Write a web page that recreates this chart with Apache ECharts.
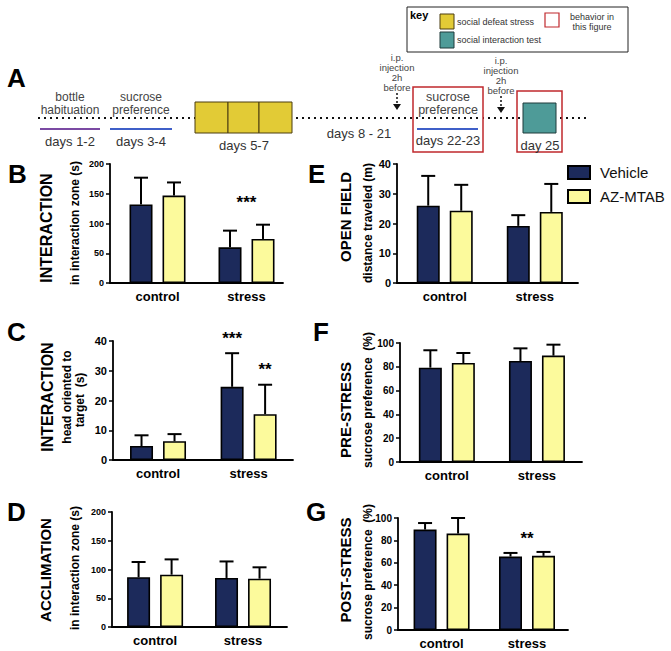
<!DOCTYPE html>
<html><head><meta charset="utf-8">
<script src="https://cdn.jsdelivr.net/npm/echarts@6/dist/echarts.min.js"></script>
<style>html,body{margin:0;padding:0;background:#fff}#c{width:671px;height:651px}</style>
</head><body><div id="c"></div>
<script>
// ---------- data ----------
const groups = ['control', 'stress'];
const seriesNames = ['Vehicle', 'AZ-MTAB'];

// B: interaction, time in interaction zone (s)
const bVehicle = [132, 60];   const bVehicleErr = [45, 28];
const bAZ      = [147, 74];   const bAZErr      = [22, 24];
const bTicks   = [0, 50, 100, 150, 200];
// C: interaction, head oriented to target (s)
const cVehicle = [4.7, 24.6]; const cVehicleErr = [3.6, 11.3];
const cAZ      = [6.3, 15.4]; const cAZErr      = [2.4, 9.9];
const cTicks   = [0, 10, 20, 30, 40];
// D: acclimation, time in interaction zone (s)
const dVehicle = [86.5, 85.3]; const dVehicleErr = [26.5, 28.7];
const dAZ      = [91, 84];     const dAZErr      = [26.6, 19.8];
const dTicks   = [0, 50, 100, 150, 200];
// E: open field, distance traveled (m)
const eVehicle = [26, 19.2];   const eVehicleErr = [10, 3.6];
const eAZ      = [24.3, 23.9]; const eAZErr      = [8.7, 9.4];
const eTicks   = [0, 10, 20, 30, 40];
// F: pre-stress sucrose preference (%)
const fVehicle = [79.3, 84.9]; const fVehicleErr = [14.6, 10.6];
const fAZ      = [83.2, 89.4]; const fAZErr      = [8.4, 9.2];
const fTicks   = [0, 20, 40, 60, 80, 100];
// G: post-stress sucrose preference (%)
const gVehicle = [89.7, 65.6]; const gVehicleErr = [5.8, 3.2];
const gAZ      = [86.1, 66.2]; const gAZErr      = [13.9, 3.5];
const gTicks   = [0, 20, 40, 60, 80, 100];

// significance marks: group index, value height, bar (-1 vehicle, 0 between, 1 AZ-MTAB), text
const sigB = [[1, 136, 0, '***']];
const sigC = [[1, 40.7, -1, '***'], [1, 30.3, 1, '**']];
const sigG = [[1, 82, 0, '**']];

// ---------- style ----------
const FONT = 'Liberation Sans, Arial, Helvetica, sans-serif';
const NAVY = '#1c2a5b';
const PALE = '#fcfa9c';
const BAR_W = 23, BAR_GAP = 10;
const OFF = (BAR_W + BAR_GAP) / 2;

const panels = [
  {vehicle:bVehicle, vErr:bVehicleErr, az:bAZ, aErr:bAZErr, ticks:bTicks, sig:sigB,
   left:110, top:164, width:173, height:119, xMin:-0.534, xMax:1.41, tickFont:9},
  {vehicle:cVehicle, vErr:cVehicleErr, az:cAZ, aErr:cAZErr, ticks:cTicks, sig:sigC,
   left:113, top:341, width:180, height:119, xMin:-0.497, xMax:1.49, tickFont:11},
  {vehicle:dVehicle, vErr:dVehicleErr, az:dAZ, aErr:dAZErr, ticks:dTicks, sig:[],
   left:112, top:512, width:175, height:115, xMin:-0.49, xMax:1.5, tickFont:9},
  {vehicle:eVehicle, vErr:eVehicleErr, az:eAZ, aErr:eAZErr, ticks:eTicks, sig:[],
   left:397, top:164, width:181, height:119, xMin:-0.53, xMax:1.48, tickFont:11},
  {vehicle:fVehicle, vErr:fVehicleErr, az:fAZ, aErr:fAZErr, ticks:fTicks, sig:[],
   left:400, top:343, width:182, height:119, xMin:-0.52, xMax:1.5, tickFont:10},
  {vehicle:gVehicle, vErr:gVehicleErr, az:gAZ, aErr:gAZErr, ticks:gTicks, sig:sigG,
   left:398, top:518, width:170, height:112, xMin:-0.51, xMax:1.48, tickFont:10}
];

const grid = [], xAxis = [], yAxis = [], series = [];

function errSeries(idx, vals, errs, sign) {
  return {
    type: 'custom', xAxisIndex: idx, yAxisIndex: idx, z: 3, silent: true,
    data: groups.map((g, i) => [i, vals[i], errs[i]]),
    renderItem: (p, api) => {
      const x = api.value(0), m = api.value(1), e = api.value(2);
      const b = api.coord([x, m]), t = api.coord([x, m + e]);
      const cx = b[0] + sign * OFF;
      return {type: 'group', children: [
        {type: 'line', shape: {x1: cx, y1: b[1], x2: cx, y2: t[1]}, style: {stroke: '#000', lineWidth: 2}},
        {type: 'line', shape: {x1: cx - 7, y1: t[1], x2: cx + 7, y2: t[1]}, style: {stroke: '#000', lineWidth: 2}}
      ]};
    }
  };
}

panels.forEach((p, idx) => {
  grid.push({left: p.left, top: p.top, width: p.width, height: p.height});
  xAxis.push({
    type: 'value', gridIndex: idx, min: p.xMin, max: p.xMax,
    splitLine: {show: false},
    axisLine: {show: true, onZero: false, lineStyle: {color: '#000', width: 1.8}},
    axisTick: {show: false},
    axisLabel: {customValues: groups.map((g, i) => i), formatter: v => groups[Math.round(v)] || '',
      margin: 7, color: '#000', fontWeight: 'bold', fontSize: 13, fontFamily: FONT}
  });
  const t = p.ticks;
  yAxis.push({
    type: 'value', gridIndex: idx, min: t[0], max: t[t.length - 1], interval: t[1] - t[0],
    splitLine: {show: false},
    axisLine: {show: true, onZero: false, lineStyle: {color: '#000', width: 1.8}},
    axisTick: {show: true, length: 4, lineStyle: {color: '#000', width: 1.5}},
    axisLabel: {margin: 6, color: '#000', fontWeight: 'bold', fontSize: p.tickFont, fontFamily: FONT}
  });
  series.push({
    type: 'bar', name: seriesNames[0], xAxisIndex: idx, yAxisIndex: idx,
    barWidth: BAR_W, barGap: (BAR_GAP / BAR_W * 100) + '%',
    itemStyle: {color: NAVY, borderColor: '#000', borderWidth: 1.6},
    data: groups.map((g, i) => [i, p.vehicle[i]])
  });
  series.push({
    type: 'bar', name: seriesNames[1], xAxisIndex: idx, yAxisIndex: idx,
    barWidth: BAR_W, barGap: (BAR_GAP / BAR_W * 100) + '%',
    itemStyle: {color: PALE, borderColor: '#000', borderWidth: 1.6},
    data: groups.map((g, i) => [i, p.az[i]])
  });
  series.push(errSeries(idx, p.vehicle, p.vErr, -1));
  series.push(errSeries(idx, p.az, p.aErr, 1));
  if (p.sig.length) {
    series.push({
      type: 'custom', xAxisIndex: idx, yAxisIndex: idx, z: 4, silent: true, clip: false,
      data: p.sig.map(s => [s[0], s[1], s[2]]),
      renderItem: (prm, api) => {
        const c = api.coord([api.value(0), api.value(1)]);
        return {type: 'text', x: c[0] + api.value(2) * OFF, y: c[1],
          style: {text: p.sig[prm.dataIndex][3], fill: '#000', font: 'bold 17px ' + FONT,
            align: 'center', verticalAlign: 'middle'}};
      }
    });
  }
});

// ---------- annotation graphics (panel letters, axis titles, timeline, key) ----------
const g = [];
function txt(text, x, y, size, opts = {}) {
  g.push({type: 'text', x, y, rotation: opts.rot ? Math.PI / 2 : 0, z: 10,
    style: {text, fill: opts.color || '#000', font: (opts.bold ? 'bold ' : '') + size + 'px ' + FONT,
      align: opts.align || 'center', verticalAlign: 'middle'}});
}
function rect(x, y, w, h, fill, stroke, lw, z) {
  g.push({type: 'rect', z: z || 5, shape: {x, y, width: w, height: h},
    style: {fill: fill || 'none', stroke: stroke || 'none', lineWidth: lw || 1}});
}
function line(x1, y1, x2, y2, stroke, lw, dash, z) {
  g.push({type: 'line', z: z || 4, shape: {x1, y1, x2, y2},
    style: {stroke, lineWidth: lw, lineDash: dash || null}});
}

// panel letters
[['A', 7, 78], ['B', 8, 174], ['C', 7, 332], ['D', 7, 512], ['E', 308, 174], ['F', 313, 332], ['G', 306, 512]]
  .forEach(l => txt(l[0], l[1], l[2], 26, {bold: true, align: 'left'}));

// axis titles (rotated)
txt('INTERACTION', 46, 228, 16, {bold: true, rot: true});
txt('in interaction zone (s)', 75, 223, 12, {bold: true, rot: true});
txt('INTERACTION', 47, 397, 16, {bold: true, rot: true});
txt('head oriented to', 67, 397, 12, {bold: true, rot: true});
txt('target  (s)', 80, 400, 12, {bold: true, rot: true});
txt('ACCLIMATION', 45, 570, 15, {bold: true, rot: true});
txt('in interaction zone (s)', 75, 568, 12, {bold: true, rot: true});
txt('OPEN FIELD', 345, 217, 15, {bold: true, rot: true});
txt('distance traveled (m)', 368, 223, 12, {bold: true, rot: true});
txt('PRE-STRESS', 345, 410, 15, {bold: true, rot: true});
txt('sucrose preference  (%)', 368, 400, 12, {bold: true, rot: true});
txt('POST-STRESS', 345, 570, 15, {bold: true, rot: true});
txt('sucrose preference  (%)', 368, 572, 12, {bold: true, rot: true});

// timeline
const GRAY = '#444';
line(38, 118, 587, 118, '#111', 2, [2, 4], 3);
txt('bottle', 70, 97, 12, {color: GRAY});
txt('habituation', 70, 110, 12, {color: GRAY});
line(40, 129, 100, 129, '#7b4aa3', 2);
txt('days 1-2', 70, 141, 13, {color: '#333'});
txt('sucrose', 141, 97, 12, {color: GRAY});
txt('preference', 141, 110, 12, {color: GRAY});
line(110, 129, 172, 129, '#3f5fc8', 2);
txt('days 3-4', 141, 141, 13, {color: '#333'});
rect(195, 102, 33, 31, '#e2cb36', '#4a3c10', 1);
rect(228, 102, 31, 31, '#e2cb36', '#4a3c10', 1);
rect(259, 102, 33, 31, '#e2cb36', '#4a3c10', 1);
txt('days 5-7', 244, 145, 13, {color: '#333'});
txt('days 8 - 21', 359, 133, 13, {color: '#333'});
function injection(cx, y0) {
  ['i.p.', 'injection', '2h', 'before'].forEach((s, i) => txt(s, cx, y0 + i * 10, 9.5, {color: GRAY}));
  line(cx, y0 + 36, cx, y0 + 47, '#111', 1.5, [2, 2]);
  g.push({type: 'polygon', z: 5, shape: {points: [[cx - 4, y0 + 47], [cx + 4, y0 + 47], [cx, y0 + 53]]}, style: {fill: '#111'}});
}
injection(397, 57);
injection(501, 60);
rect(413, 87, 70, 65, '#fff', '#c0282d', 1.5, 4.5);
txt('sucrose', 448, 97, 12.5, {color: GRAY});
txt('preference', 448, 110, 12.5, {color: GRAY});
line(417, 129, 478, 129, '#3f5fc8', 2, null, 6);
txt('days 22-23', 448, 140, 13, {color: '#333'});
rect(517, 91, 45, 61, 'none', '#c0282d', 1.5, 6);
rect(523, 103, 33, 30, '#4e9b98', '#1e3a3a', 1, 6);
txt('day 25', 540, 145, 13, {color: '#333'});
// dotted line inside first red box (box is filled white)
line(416, 118, 481, 118, '#111', 2, [2, 4], 6);

// key
rect(407, 7, 221, 45, '#fff', '#222', 1, 5);
txt('key', 410, 15, 11, {bold: true, align: 'left'});
rect(440, 14, 14, 15, '#e2cb36', '#4a3c10', 1, 6);
txt('social defeat stress', 457, 22, 9, {color: '#333', align: 'left'});
rect(440, 32, 14, 16, '#4e9b98', '#1e3a3a', 1, 6);
txt('social interaction test', 457, 40, 9, {color: '#333', align: 'left'});
rect(545, 13, 14, 14, 'none', '#c0282d', 1.2, 6);
txt('behavior in', 592, 17, 9, {color: '#333'});
txt('this figure', 592, 27, 9, {color: '#333'});

const chart = echarts.init(document.getElementById('c'), null, {renderer: 'svg'});
chart.setOption({
  animation: false,
  backgroundColor: '#fff',
  textStyle: {fontFamily: FONT},
  legend: {data: seriesNames, orient: 'vertical', left: 562, top: 160, icon: 'rect',
    itemWidth: 22, itemHeight: 13, itemGap: 9,
    textStyle: {fontSize: 15, lineHeight: 13, color: '#111', fontFamily: FONT, padding: [0, 0, 0, 5]}},
  grid, xAxis, yAxis, series,
  graphic: g
});
</script></body></html>
